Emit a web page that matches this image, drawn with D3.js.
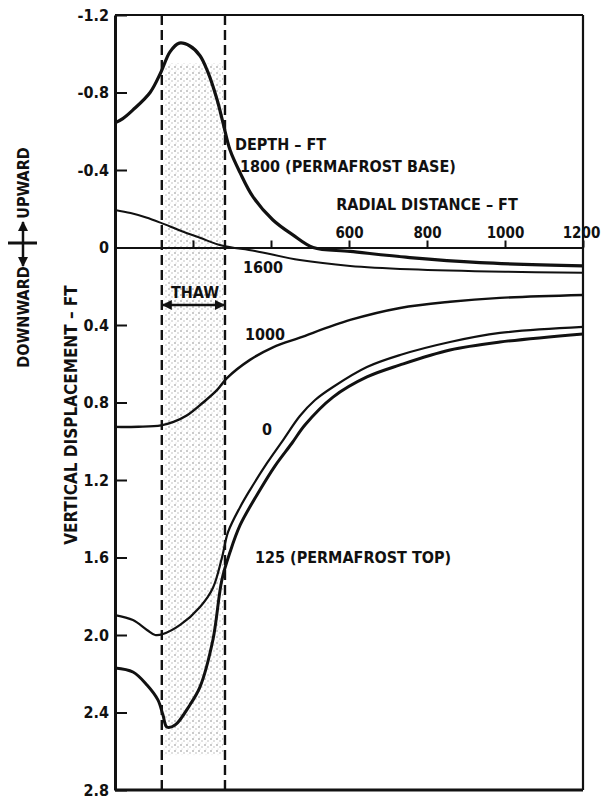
<!DOCTYPE html>
<html lang="en">
<head>
  <meta charset="UTF-8" />
  <title>Vertical displacement vs radial distance</title>
  <script src="https://d3js.org/d3.v7.min.js"></script>
  <style>
    body, html {
      margin: 0;
      padding: 0;
      background: #fff;
    }
    #chart text {
      font-family: "Liberation Sans Narrow", "DejaVu Sans Condensed", "Arial Narrow", sans-serif;
      font-weight: bold;
      fill: #111;
    }
  </style>
</head>
<body>
  <svg id="chart" width="602" height="799"></svg>
  <script>
    // Axis ticks
    const yTicks = [-1.2, -0.8, -0.4, 0, 0.4, 0.8, 1.2, 1.6, 2.0, 2.4, 2.8];
    const xTicks = [200, 400, 600, 800, 1000, 1200];
    const xLabelled = [600, 800, 1000, 1200];

    // Thaw zone, radial distance (ft)
    const thawZone = [120, 282];
    const thawDepth = [-0.95, 2.62];

    // Curves: [radial distance ft, vertical displacement ft] (negative = upward)
    const depth1800 = [[0, -0.643], [20, -0.665], [46, -0.71], [90, -0.80], [118, -0.906], [141, -1.01],
      [165, -1.055], [192, -1.04], [218, -0.99], [238, -0.906], [262, -0.761], [277, -0.643],
      [295, -0.503], [321, -0.385], [354, -0.261], [405, -0.142], [456, -0.065], [508, 0.0],
      [603, 0.02], [756, 0.052], [936, 0.078], [1200, 0.095]];
    const depth1600 = [[0, -0.194], [40, -0.178], [80, -0.155], [118, -0.127], [170, -0.085],
      [218, -0.05], [274, -0.01], [359, 0.018], [474, 0.065], [603, 0.095], [756, 0.112],
      [1000, 0.125], [1200, 0.13]];
    const depth1000 = [[0, 0.926], [60, 0.925], [118, 0.918], [150, 0.90], [185, 0.866], [226, 0.80],
      [262, 0.735], [287, 0.674], [346, 0.58], [405, 0.515], [474, 0.465], [603, 0.374],
      [731, 0.312], [859, 0.28], [987, 0.26], [1200, 0.245]];
    const depth0 = [[0, 1.897], [46, 1.923], [82, 1.974], [103, 2.0], [123, 1.995], [167, 1.948],
      [218, 1.855], [251, 1.757], [274, 1.603], [290, 1.468], [321, 1.339], [346, 1.252],
      [390, 1.112], [431, 0.994], [474, 0.87], [513, 0.787], [559, 0.72], [646, 0.617],
      [731, 0.555], [859, 0.488], [987, 0.441], [1200, 0.41]];
    const depth125 = [[0, 2.17], [46, 2.191], [82, 2.258], [110, 2.335], [123, 2.413], [133, 2.475],
      [154, 2.465], [192, 2.361], [218, 2.268], [251, 2.026], [274, 1.716], [295, 1.572],
      [321, 1.432], [367, 1.267], [410, 1.128], [454, 1.009], [487, 0.916], [559, 0.772],
      [646, 0.668], [731, 0.606], [859, 0.529], [987, 0.488], [1200, 0.446]];

    const curves = [
      { name: '1800', data: depth1800, width: 3.2 },
      { name: '1600', data: depth1600, width: 2 },
      { name: '1000', data: depth1000, width: 2.4 },
      { name: '0', data: depth0, width: 2.2 },
      { name: '125', data: depth125, width: 3 }
    ];

    const svg = d3.select('#chart');

    const x = d3.scaleLinear().domain([0, 1200]).range([115, 583]);
    const y = d3.scaleLinear().domain([-1.2, 2.8]).range([15, 790]);

    // Stipple pattern and arrow heads
    const defs = svg.append('defs');
    const pat = defs.append('pattern')
      .attr('id', 'stipple')
      .attr('width', 6).attr('height', 6)
      .attr('patternUnits', 'userSpaceOnUse');
    pat.append('circle').attr('cx', 1).attr('cy', 1).attr('r', 0.8).attr('fill', '#555');
    pat.append('circle').attr('cx', 4).attr('cy', 3).attr('r', 0.7).attr('fill', '#888');
    pat.append('circle').attr('cx', 2).attr('cy', 5).attr('r', 0.5).attr('fill', '#aaa');

    defs.append('marker')
      .attr('id', 'arrow')
      .attr('viewBox', '0 0 10 10')
      .attr('refX', 9).attr('refY', 5)
      .attr('markerWidth', 4).attr('markerHeight', 4)
      .attr('orient', 'auto-start-reverse')
      .append('path')
      .attr('d', 'M0,0 L10,5 L0,10 z')
      .attr('fill', '#111');

    defs.append('clipPath').attr('id', 'plotClip')
      .append('rect')
      .attr('x', x(0)).attr('y', y(-1.2))
      .attr('width', x(1200) - x(0)).attr('height', y(2.8) - y(-1.2));

    // Thaw zone shading
    svg.append('rect')
      .attr('x', x(thawZone[0]) + 2)
      .attr('y', y(thawDepth[0]))
      .attr('width', x(thawZone[1]) - x(thawZone[0]) - 4)
      .attr('height', y(thawDepth[1]) - y(thawDepth[0]))
      .attr('fill', 'url(#stipple)')
      .attr('opacity', 0.7);

    // Thaw boundaries
    svg.append('g').selectAll('line')
      .data(thawZone)
      .enter().append('line')
      .attr('x1', d => x(d)).attr('x2', d => x(d))
      .attr('y1', y(-1.2)).attr('y2', y(2.8))
      .attr('stroke', '#111')
      .attr('stroke-width', 2.4)
      .attr('stroke-dasharray', '10,5');

    // Frame
    const frame = svg.append('g').attr('stroke', '#111').attr('fill', 'none');
    frame.append('line')
      .attr('x1', x(0)).attr('x2', x(1200)).attr('y1', y(-1.2)).attr('y2', y(-1.2))
      .attr('stroke-width', 2.2);
    frame.append('line')
      .attr('x1', x(1200)).attr('x2', x(1200)).attr('y1', y(-1.2)).attr('y2', y(2.8))
      .attr('stroke-width', 2.2);
    frame.append('line')
      .attr('x1', x(0)).attr('x2', x(1200)).attr('y1', y(2.8)).attr('y2', y(2.8))
      .attr('stroke-width', 3);

    // Y axis
    const yAxis = svg.append('g')
      .attr('transform', `translate(${x(0)},0)`)
      .call(d3.axisLeft(y)
        .tickValues(yTicks)
        .tickSize(-12)
        .tickSizeOuter(0)
        .tickPadding(6)
        .tickFormat(d => d === 0 ? '0' : d.toFixed(1)));
    yAxis.select('.domain').attr('stroke-width', 3).attr('stroke', '#111');
    yAxis.selectAll('.tick line').attr('stroke-width', 2).attr('stroke', '#111');
    yAxis.selectAll('.tick text').attr('font-size', 16).attr('fill', '#111');

    // X axis along zero line
    const xAxis = svg.append('g')
      .attr('transform', `translate(0,${y(0)})`)
      .call(d3.axisTop(x)
        .tickValues(xTicks)
        .tickSize(7)
        .tickSizeOuter(0)
        .tickPadding(3)
        .tickFormat(d => xLabelled.includes(d) ? d : ''));
    xAxis.select('.domain').attr('stroke-width', 2).attr('stroke', '#111');
    xAxis.selectAll('.tick line').attr('stroke-width', 2).attr('stroke', '#111');
    xAxis.selectAll('.tick text')
      .attr('font-size', 15)
      .attr('fill', '#111')
      .attr('dx', d => d === 1200 ? -2 : 0);

    // Curves
    const line = d3.line()
      .x(d => x(d[0]))
      .y(d => y(d[1]))
      .curve(d3.curveCatmullRom.alpha(0.5));

    svg.append('g')
      .attr('clip-path', 'url(#plotClip)')
      .selectAll('path')
      .data(curves)
      .enter().append('path')
      .attr('d', d => line(d.data))
      .attr('fill', 'none')
      .attr('stroke', '#111')
      .attr('stroke-width', d => d.width)
      .attr('stroke-linejoin', 'round');

    // Thaw arrow
    svg.append('line')
      .attr('x1', x(thawZone[0]) + 1).attr('x2', x(thawZone[1]) - 1)
      .attr('y1', 305).attr('y2', 305)
      .attr('stroke', '#111')
      .attr('stroke-width', 2.5)
      .attr('marker-start', 'url(#arrow)')
      .attr('marker-end', 'url(#arrow)');

    // Annotations
    const notes = [
      { text: 'DEPTH – FT', x: 235, y: 150, anchor: 'start' },
      { text: '1800 (PERMAFROST BASE)', x: 240, y: 172, anchor: 'start' },
      { text: 'RADIAL DISTANCE – FT', x: 427, y: 210, anchor: 'middle' },
      { text: '1600', x: 243, y: 273, anchor: 'start' },
      { text: 'THAW', x: 195, y: 298, anchor: 'middle' },
      { text: '1000', x: 245, y: 340, anchor: 'start' },
      { text: '0', x: 262, y: 435, anchor: 'start' },
      { text: '125 (PERMAFROST TOP)', x: 255, y: 563, anchor: 'start' }
    ];
    svg.append('g').selectAll('text')
      .data(notes)
      .enter().append('text')
      .attr('x', d => d.x)
      .attr('y', d => d.y)
      .attr('text-anchor', d => d.anchor)
      .attr('font-size', 16)
      .text(d => d.text);

    // Y axis titles
    svg.append('text')
      .attr('transform', 'translate(77,415) rotate(-90)')
      .attr('text-anchor', 'middle')
      .attr('font-size', 17)
      .text('VERTICAL DISPLACEMENT – FT');
    svg.append('text')
      .attr('transform', 'translate(29,183) rotate(-90)')
      .attr('text-anchor', 'middle')
      .attr('font-size', 16)
      .text('UPWARD');
    svg.append('text')
      .attr('transform', 'translate(29,317) rotate(-90)')
      .attr('text-anchor', 'middle')
      .attr('font-size', 16)
      .text('DOWNWARD');

    // Direction cross
    svg.append('line')
      .attr('x1', 23).attr('x2', 23).attr('y1', 222).attr('y2', 266)
      .attr('stroke', '#111').attr('stroke-width', 2.5)
      .attr('marker-start', 'url(#arrow)')
      .attr('marker-end', 'url(#arrow)');
    svg.append('line')
      .attr('x1', 8).attr('x2', 37).attr('y1', 243).attr('y2', 243)
      .attr('stroke', '#111').attr('stroke-width', 3);
  </script>
</body>
</html>
